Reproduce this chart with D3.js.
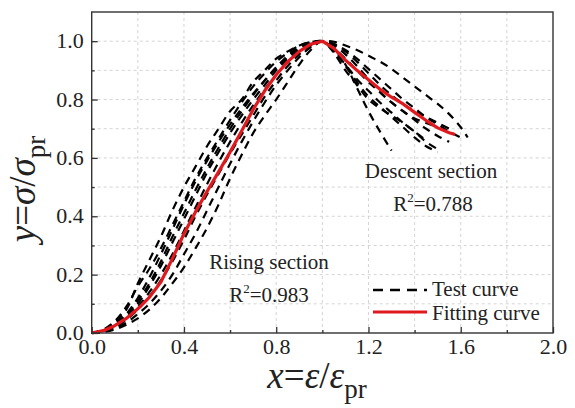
<!DOCTYPE html>
<html><head><meta charset="utf-8">
<script src="https://cdn.jsdelivr.net/npm/d3@7"></script>
<style>
body{margin:0;background:#fff;}
svg text{font-family:"Liberation Serif","Times New Roman",serif;fill:#222;}
</style></head>
<body><svg id="c" width="575" height="408"></svg>
<script>
// ---------- data ----------
const xTicks = [0.0, 0.4, 0.8, 1.2, 1.6, 2.0];
const yTicks = [0.0, 0.2, 0.4, 0.6, 0.8, 1.0];
const xTickLabels = ["0.0","0.4","0.8","1.2","1.6","2.0"];
const yTickLabels = ["0.0","0.2","0.4","0.6","0.8","1.0"];

const riseX = [0,0.05,0.1,0.15,0.2,0.25,0.3,0.35,0.4,0.45,0.5,0.55,0.6,0.65,0.7,0.75,0.8,0.85,0.9,0.95,1.0];
const descX = [1.0,1.05,1.1,1.15,1.2,1.25,1.3,1.35,1.4,1.45,1.5,1.55,1.6,1.63];

const testRiseY = [
  [0,0.01,0.035,0.08,0.17,0.25,0.33,0.42,0.5,0.57,0.64,0.7,0.76,0.8,0.86,0.9,0.94,0.965,0.985,0.997,1],
  [0,0.008,0.03,0.065,0.12,0.19,0.27,0.355,0.44,0.52,0.59,0.655,0.715,0.77,0.82,0.865,0.91,0.95,0.98,0.995,1],
  [0,0.006,0.025,0.055,0.1,0.16,0.23,0.31,0.39,0.47,0.55,0.62,0.685,0.745,0.8,0.85,0.9,0.94,0.97,0.992,1],
  [0,0.004,0.015,0.035,0.065,0.1,0.145,0.2,0.27,0.34,0.42,0.5,0.58,0.655,0.725,0.79,0.85,0.9,0.945,0.98,1],
  [0,0.003,0.012,0.028,0.05,0.08,0.12,0.17,0.225,0.29,0.36,0.44,0.53,0.61,0.685,0.745,0.8,0.86,0.92,0.97,1],
  [0,0.01,0.03,0.06,0.11,0.17,0.245,0.33,0.41,0.49,0.565,0.635,0.7,0.76,0.815,0.865,0.91,0.945,0.975,0.994,1],
  [0,0.005,0.02,0.045,0.08,0.125,0.18,0.245,0.32,0.4,0.475,0.545,0.615,0.68,0.745,0.81,0.865,0.915,0.955,0.985,1],
  [0,0.012,0.04,0.09,0.16,0.22,0.29,0.37,0.45,0.53,0.6,0.665,0.73,0.79,0.845,0.89,0.93,0.96,0.985,0.997,1],
  [0,0.005,0.02,0.05,0.09,0.14,0.2,0.27,0.35,0.43,0.51,0.585,0.655,0.72,0.78,0.835,0.885,0.93,0.965,0.99,1]
];
const testDescY = [
  [1,0.975,0.92,0.84,0.76,0.69,0.625],
  [1,0.998,0.985,0.97,0.95,0.93,0.905,0.875,0.845,0.815,0.785,0.75,0.705,0.67],
  [1,0.97,0.915,0.86,0.81,0.775,0.74,0.705,0.67,0.64,0.62],
  [1,0.99,0.965,0.93,0.89,0.85,0.815,0.785,0.76,0.74,0.72,0.7],
  [1,0.975,0.94,0.9,0.86,0.825,0.79,0.76,0.73,0.7,0.675,0.655],
  [1,0.985,0.955,0.915,0.87,0.825,0.79,0.76,0.735,0.72,0.705],
  [1,0.965,0.92,0.87,0.83,0.79,0.755,0.72,0.69,0.655,0.63],
  [1,0.99,0.97,0.94,0.905,0.87,0.835,0.8,0.77,0.74,0.715,0.69,0.67],
  [1,0.96,0.9,0.85,0.8,0.77,0.745,0.72,0.69,0.66]
];

const fitX = [0,0.05,0.1,0.15,0.2,0.25,0.3,0.35,0.4,0.45,0.5,0.55,0.6,0.65,0.7,0.75,0.8,0.85,0.9,0.95,1.0,
              1.05,1.1,1.15,1.2,1.25,1.3,1.35,1.4,1.45,1.5,1.55,1.575];
const fitY = [0,0.008,0.025,0.05,0.083,0.122,0.175,0.255,0.34,0.415,0.485,0.552,0.62,0.692,0.766,0.83,0.885,0.93,0.965,0.99,1.0,
              0.975,0.935,0.9,0.868,0.835,0.808,0.785,0.756,0.728,0.703,0.686,0.68];

// ---------- layout ----------
const FONT = '"Liberation Serif","Times New Roman",serif';
const svg = d3.select("#c");
const L = 91.7, R = 553, T = 12, B = 333;
const x = d3.scaleLinear().domain([0, 2]).range([L, R]);
const y = d3.scaleLinear().domain([0, 1.1]).range([B, T]);

// grid
const gx = d3.range(0.2, 2.0, 0.2);
const gy = d3.range(0.1, 1.1, 0.1);
svg.append("g").selectAll("line").data(gx).join("line")
  .attr("x1", d => x(d)).attr("x2", d => x(d)).attr("y1", B).attr("y2", T)
  .attr("stroke", "#d4d4d4").attr("stroke-width", 1).attr("stroke-dasharray", "3,3");
svg.append("g").selectAll("line").data(gy).join("line")
  .attr("x1", L).attr("x2", R).attr("y1", d => y(d)).attr("y2", d => y(d))
  .attr("stroke", "#d4d4d4").attr("stroke-width", 1).attr("stroke-dasharray", "3,3");

// curves
const line = d3.line().x(d => x(d[0])).y(d => y(d[1])).curve(d3.curveCatmullRom.alpha(0.5));
const tests = testRiseY.map((ry, i) => {
  const pts = riseX.map((xv, j) => [xv, ry[j]]);
  testDescY[i].forEach((yv, j) => { if (j > 0) pts.push([descX[j], yv]); });
  return pts;
});
svg.append("g").selectAll("path").data(tests).join("path")
  .attr("d", line).attr("fill", "none").attr("stroke", "#000")
  .attr("stroke-width", 2.2).attr("stroke-dasharray", "8,6");

const fitPts = fitX.map((xv, j) => [xv, fitY[j]]);
svg.append("path").datum(fitPts).attr("d", d3.line().x(d => x(d[0])).y(d => y(d[1])).curve(d3.curveLinear))
  .attr("fill", "none").attr("stroke", "#e0191e").attr("stroke-width", 3.2)
  .attr("stroke-linejoin", "round");

// axes
const yAxis = d3.axisLeft(y).tickValues(yTicks).tickFormat((d, i) => yTickLabels[i]).tickSize(-6).tickPadding(8);
const gY = svg.append("g").attr("transform", `translate(${L},0)`).call(yAxis);
const yMinor = d3.axisLeft(y).tickValues(d3.range(0.1, 1.1, 0.2)).tickFormat("").tickSize(-3);
svg.append("g").attr("transform", `translate(${L},0)`).call(yMinor).select(".domain").remove();

const xAxis = d3.axisBottom(x).tickValues(xTicks).tickFormat((d, i) => xTickLabels[i]).tickSize(-6).tickPadding(5);
const gX = svg.append("g").attr("transform", `translate(0,${B})`).call(xAxis);
const xMinor = d3.axisBottom(x).tickValues(d3.range(0.2, 2.0, 0.4)).tickFormat("").tickSize(-3);
svg.append("g").attr("transform", `translate(0,${B})`).call(xMinor).select(".domain").remove();

svg.selectAll(".domain").remove();
svg.selectAll(".tick line").attr("stroke", "#333").attr("stroke-width", 1.3);
svg.selectAll(".tick text").style("font-family", FONT).style("font-size", "22px").style("fill", "#222");
gY.selectAll(".tick text").attr("dy", "0.3em");
gX.selectAll(".tick text").attr("dy", "0.72em");

// frame
svg.append("rect").attr("x", L).attr("y", T).attr("width", R - L).attr("height", B - T)
  .attr("fill", "none").attr("stroke", "#333").attr("stroke-width", 1.4);

// axis titles
const xt = svg.append("text").attr("x", 317).attr("y", 388).attr("text-anchor", "middle").style("font-size", "37px");
xt.append("tspan").attr("font-style", "italic").text("x");
xt.append("tspan").text("=");
xt.append("tspan").attr("font-style", "italic").text("ε");
xt.append("tspan").text("/");
xt.append("tspan").attr("font-style", "italic").text("ε");
xt.append("tspan").style("font-size", "27px").attr("dy", 10).text("pr");

const yt = svg.append("text").attr("transform", "translate(35,189) rotate(-90)").attr("text-anchor", "middle").style("font-size", "37px");
yt.append("tspan").attr("font-style", "italic").text("y");
yt.append("tspan").text("=");
yt.append("tspan").attr("font-style", "italic").text("σ");
yt.append("tspan").text("/");
yt.append("tspan").attr("font-style", "italic").text("σ");
yt.append("tspan").style("font-size", "27px").attr("dy", 10).text("pr");

// annotations
function note(cx, by, main) {
  return svg.append("text").attr("x", cx).attr("y", by).attr("text-anchor", "middle").style("font-size", "21px").text(main);
}
function rsq(cx, by, val) {
  const t = svg.append("text").attr("x", cx).attr("y", by).attr("text-anchor", "middle").style("font-size", "21px");
  t.append("tspan").text("R");
  t.append("tspan").style("font-size", "13px").attr("dy", -9).text("2");
  t.append("tspan").attr("dy", 9).text("=" + val);
}
note(431, 178, "Descent section");
rsq(433, 211, "0.788");
note(269, 269, "Rising section");
rsq(269, 302, "0.983");

// legend
const legend = [{label: "Test curve", dash: "10,7", color: "#000", w: 2.4, yy: 290, ty: 296},
                {label: "Fitting curve", dash: null, color: "#e0191e", w: 3.2, yy: 312, ty: 320}];
const lg = svg.append("g");
legend.forEach(d => {
  lg.append("line").attr("x1", 373).attr("x2", 427).attr("y1", d.yy).attr("y2", d.yy)
    .attr("stroke", d.color).attr("stroke-width", d.w).attr("stroke-dasharray", d.dash);
  lg.append("text").attr("x", 432).attr("y", d.ty).style("font-size", "21px").text(d.label);
});
</script></body></html>
